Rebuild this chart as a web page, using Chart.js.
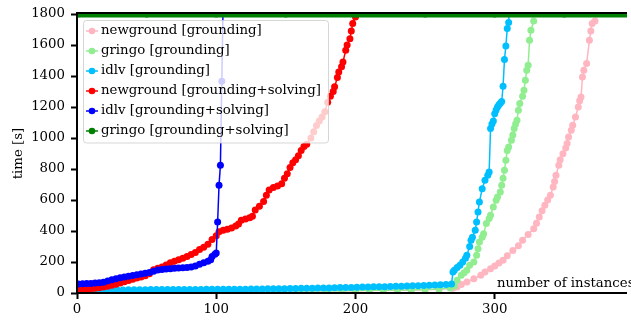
<!DOCTYPE html>
<html>
<head>
<meta charset="utf-8">
<script src="https://cdn.jsdelivr.net/npm/chart.js"></script>
<style>
  html, body { margin: 0; padding: 0; background: #fff; }
</style>
</head>
<body>
<canvas id="myChart" width="631" height="320"></canvas>

<script>
    // tick labels
    const xTicks = [0, 100, 200, 300];
    const yTicks = [0, 200, 400, 600, 800, 1000, 1200, 1400, 1600, 1800];

    const seriesNames = [
        'newground [grounding]',
        'gringo [grounding]',
        'idlv [grounding]',
        'newground [grounding+solving]',
        'idlv [grounding+solving]',
        'gringo [grounding+solving]'
    ];
    const seriesColors = ['#ffb6c1', '#90ee90', '#00bfff', '#ff0000', '#0000ff', '#008000'];

    // newground [grounding]
    const newgroundGX = [1, 10, 20, 30, 40, 50, 60, 70, 80, 90, 100, 110, 120, 130, 140, 150, 160, 170, 180, 190, 200, 210, 220, 230, 240, 250, 260, 270,
        273, 276, 280, 285, 290, 293, 297, 300, 303, 306, 309, 313, 317, 320, 324, 328, 330, 332, 334, 336, 338, 340, 342, 343, 344, 346, 347, 349, 351, 352,
        353, 355, 356, 358, 360, 361, 362, 363, 364, 366, 368, 369, 370, 372];
    const newgroundGY = [4, 5, 5, 6, 6, 7, 7, 8, 8, 9, 9, 10, 10, 11, 11, 12, 12, 13, 14, 14, 15, 16, 17, 18, 19, 21, 24, 30,
        39, 55, 71, 92, 114, 135, 157, 175, 193, 211, 240, 275, 305, 340, 378, 415, 450, 490, 530, 566, 600, 630, 684, 720, 759, 824, 860, 899, 935, 964,
        1006, 1050, 1082, 1135, 1200, 1240, 1265, 1393, 1437, 1480, 1630, 1690, 1738, 1755];

    // gringo [grounding]
    const gringoGX = [1, 10, 20, 30, 40, 50, 60, 70, 80, 90, 100, 110, 120, 130, 140, 150, 160, 170, 180, 190, 200, 210, 220, 230, 240, 250, 260, 268, 271,
        273, 276, 278, 280, 282, 285, 287, 288, 289, 291, 292, 294, 296, 297, 299, 301, 302, 304, 305, 306, 307, 308, 309, 310, 312, 313, 314, 315, 316,
        317, 318, 320, 321, 322, 323, 324, 325, 326, 328];
    const gringoGY = [5, 6, 6, 7, 7, 8, 8, 9, 9, 10, 10, 11, 11, 12, 12, 13, 13, 14, 14, 15, 16, 17, 18, 19, 20, 22, 26, 32, 45,
        82, 114, 130, 146, 179, 200, 243, 286, 329, 360, 383, 448, 480, 501, 555, 598, 620, 652, 695, 740, 792, 856, 920, 942, 985, 1020, 1061, 1090, 1114,
        1179, 1222, 1269, 1308, 1372, 1437, 1469, 1630, 1695, 1755];

    // idlv [grounding]
    const idlvGX = [1, 5, 9, 13, 17, 21, 25, 29, 33, 37, 41, 45, 49, 53, 57, 61, 65, 69, 73, 77, 81, 85, 89, 93, 97, 101, 105, 109, 113, 117, 121, 125,
        129, 133, 137, 141, 145, 149, 153, 157, 161, 165, 169, 173, 177, 181, 185, 189, 193, 197, 201, 205, 209, 213, 217, 221, 225, 229, 233, 237, 241,
        245, 249, 253, 257, 261, 265, 269,
        270, 271, 273, 275, 277, 279, 280, 282, 283, 284, 286, 287, 288, 289, 291, 293, 295, 296, 297, 298, 299, 300, 301, 302, 303, 304, 305, 306, 307,
        308, 309, 310, 311];
    const idlvGY = [18, 18, 19, 19, 19, 20, 20, 20, 20, 21, 21, 21, 21, 22, 22, 22, 22, 22, 23, 23, 23, 23, 23, 24, 24, 24, 24, 25, 25, 25, 25, 26,
        26, 26, 27, 27, 28, 28, 29, 29, 30, 30, 31, 32, 32, 33, 34, 35, 36, 36, 37, 38, 39, 40, 40, 41, 42, 43, 44, 45, 46,
        47, 48, 50, 51, 53, 55, 58,
        135, 146, 165, 179, 200, 225, 243, 300, 340, 360, 405, 458, 523, 587, 673, 727, 760, 780, 1061, 1090, 1110, 1157, 1180, 1200, 1215, 1225, 1235, 1334, 1506,
        1594, 1706, 1745, 1900];

    // newground [grounding+solving]
    const newgroundGSX = [1, 4, 7, 10, 13, 16, 19, 22, 25, 28, 31, 34, 37, 40, 43, 46, 49, 52, 55, 58, 61, 64, 67, 70, 73, 76, 79, 82, 85, 88, 91, 94,
        97, 100, 102, 105, 108, 111, 114, 116, 118, 121, 124, 126, 128, 131, 134, 136, 138, 141, 144, 147, 149, 151, 153, 155, 157, 159, 161, 163, 165,
        168, 170, 172, 174, 176, 178, 180, 182, 184, 185, 187, 188, 190, 191, 193, 194, 196, 197, 198, 200];
    const newgroundGSY = [22, 24, 26, 28, 31, 34, 38, 43, 50, 57, 64, 72, 80, 88, 96, 104, 112, 125, 150, 160, 168, 180, 195, 205, 215, 225, 235, 248, 262, 280, 295, 315,
        345, 370, 395, 405, 412, 420, 432, 445, 470, 478, 485, 495, 535, 560, 590, 630, 665, 680, 690, 705, 740, 770, 810, 840, 860, 885, 920, 945, 960,
        1000, 1040, 1080, 1110, 1135, 1170, 1230, 1270, 1300, 1330, 1390, 1426, 1460, 1490, 1566, 1600, 1641, 1690, 1738, 1781];

    // idlv [grounding+solving]
    const idlvGSX = [1, 4, 7, 10, 13, 16, 19, 22, 25, 28, 31, 34, 37, 40, 43, 46, 49, 52, 55, 58, 61, 64, 67, 70, 73, 76, 79, 82, 85, 88, 91, 94,
        96, 97, 99, 100, 101, 102, 103, 104, 105];
    const idlvGSY = [58, 60, 61, 62, 64, 66, 70, 78, 85, 92, 98, 103, 108, 113, 118, 122, 127, 132, 140, 148, 152, 155, 157, 159, 161, 163, 165, 168, 175, 185, 195, 205,
        215, 235, 250, 258, 458, 695, 824, 1366, 1900];

    // gringo [grounding+solving]
    const gringoGSX = [1, 50, 100, 150, 200, 250, 300, 350, 400];
    const gringoGSY = [1800, 1800, 1800, 1800, 1800, 1800, 1800, 1800, 1800];

    const seriesX = [newgroundGX, gringoGX, idlvGX, newgroundGSX, idlvGSX, gringoGSX];
    const seriesY = [newgroundGY, gringoGY, idlvGY, newgroundGSY, idlvGSY, gringoGSY];

    const serif = '"DejaVu Serif", serif';
    const fontSize = 13.3;

    // legend drawn after the datasets, like matplotlib does (semi transparent box on top)
    const topStuff = {
        id: 'topStuff',
        afterDatasetsDraw(chart) {
            const ctx = chart.ctx;
            const a = chart.chartArea;
            ctx.save();

            // spines
            ctx.strokeStyle = '#000';
            ctx.lineWidth = 2;
            ctx.beginPath();
            ctx.moveTo(a.left, a.bottom + 1);
            ctx.lineTo(a.left, a.top - 2);
            ctx.moveTo(a.left - 1, a.top - 1);
            ctx.lineTo(a.right, a.top - 1);
            ctx.moveTo(a.left - 1, a.bottom);
            ctx.lineTo(a.right, a.bottom);
            ctx.stroke();

            ctx.font = fontSize + 'px ' + serif;
            ctx.fillStyle = '#000';
            ctx.textBaseline = 'alphabetic';
            ctx.textAlign = 'left';
            ctx.fillText('number of instances', 497, 287);

            // legend box
            ctx.beginPath();
            ctx.roundRect(83.5, 20.5, 245, 122.5, 3);
            ctx.fillStyle = 'rgba(255,255,255,0.8)';
            ctx.fill();
            ctx.strokeStyle = 'rgba(204,204,204,0.8)';
            ctx.lineWidth = 1;
            ctx.stroke();

            ctx.textBaseline = 'middle';
            for (let i = 0; i < seriesNames.length; i++) {
                const y = 31 + i * 20;
                ctx.strokeStyle = seriesColors[i];
                ctx.fillStyle = seriesColors[i];
                ctx.lineWidth = 1.5;
                ctx.beginPath();
                ctx.moveTo(86, y);
                ctx.lineTo(98, y);
                ctx.stroke();
                ctx.beginPath();
                ctx.arc(92, y, 3.3, 0, Math.PI * 2);
                ctx.fill();
                ctx.fillStyle = '#000';
                ctx.fillText(seriesNames[i], 101, y);
            }
            ctx.restore();
        }
    };

    const datasets = seriesNames.map((name, i) => ({
        label: name,
        data: seriesX[i].map((x, j) => ({x: x, y: seriesY[i][j]})),
        showLine: true,
        borderColor: seriesColors[i],
        backgroundColor: seriesColors[i],
        pointBackgroundColor: seriesColors[i],
        pointBorderWidth: 0,
        pointRadius: 3.5,
        borderWidth: i == 5 ? 7 : 1.5,
        clip: 0,
        order: 5 - i
    }));

    const tickFont = { family: serif, size: fontSize };

    const ctx = document.getElementById('myChart');
    const myChart = new Chart(ctx, {
        type: 'scatter',
        data: { datasets: datasets },
        plugins: [topStuff],
        options: {
            responsive: false,
            animation: false,
            events: [],
            layout: { padding: { top: 14, right: 0, bottom: 0, left: 0 } },
            plugins: {
                legend: { display: false },
                tooltip: { enabled: false }
            },
            scales: {
                x: {
                    type: 'linear',
                    min: 0,
                    max: 395,
                    afterBuildTicks: s => { s.ticks = xTicks.map(v => ({value: v})); },
                    afterFit: s => { s.height = 27; },
                    grid: { drawOnChartArea: false, drawTicks: true, tickLength: 6, tickWidth: 2, tickColor: '#000' },
                    border: { display: false },
                    ticks: { font: tickFont, color: '#000', padding: 3, maxRotation: 0, autoSkip: false, callback: v => String(v) }
                },
                y: {
                    type: 'linear',
                    min: 0,
                    max: 1800,
                    afterBuildTicks: s => { s.ticks = yTicks.map(v => ({value: v})); },
                    afterFit: s => { s.width = 77; },
                    grid: { drawOnChartArea: false, drawTicks: true, tickLength: 6, tickWidth: 2, tickColor: '#000' },
                    border: { display: false },
                    ticks: { font: tickFont, color: '#000', padding: 6, autoSkip: false, callback: v => String(v) },
                    title: { display: true, text: 'time [s]', font: tickFont, color: '#000', padding: { top: 10.5, bottom: 0 } }
                }
            }
        }
    });
</script>
</body>
</html>
